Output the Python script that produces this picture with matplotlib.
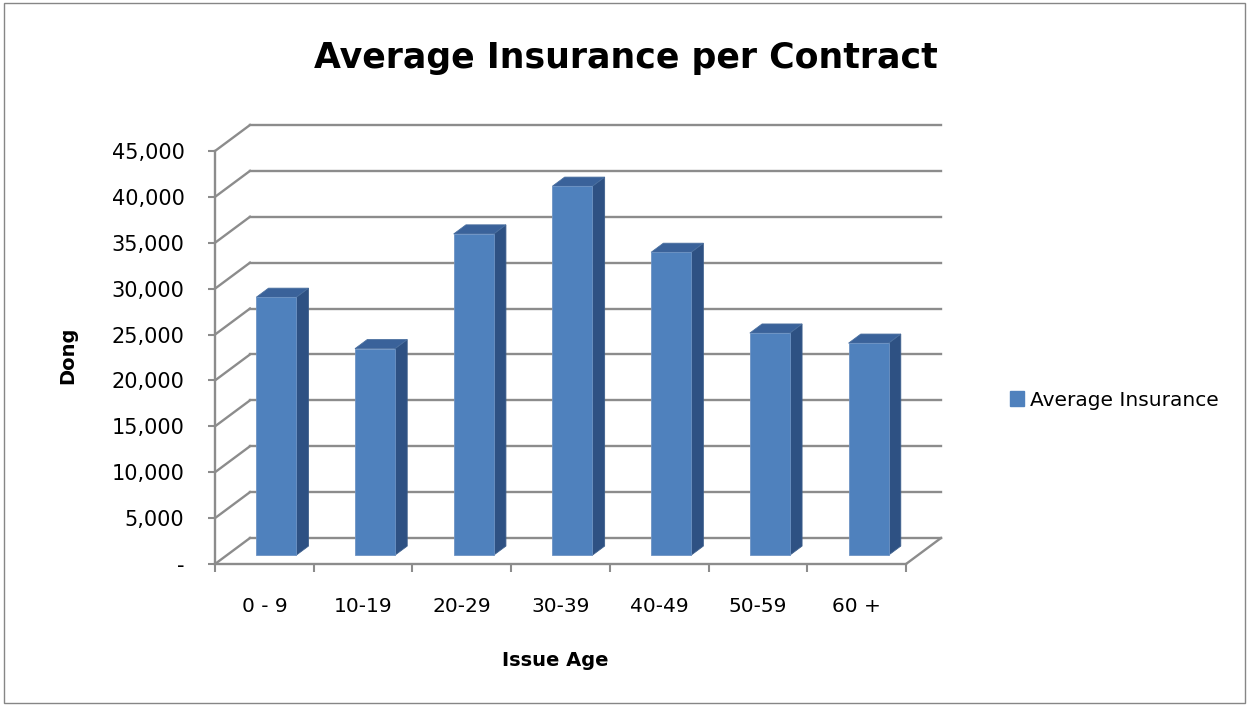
import numpy as np
from matplotlib import pyplot as plt
from matplotlib.patches import Patch, Rectangle

# data
categories = ['0 - 9', '10-19', '20-29', '30-39', '40-49', '50-59', '60 +']
avg_insurance = [28100, 22500, 35000, 40200, 33000, 24200, 23100]
series_name = 'Average Insurance'
yticks = list(range(0, 45001, 5000))

W, H = 1247, 705
fig = plt.figure(figsize=(W / 100, H / 100), dpi=100)
ax = fig.add_axes([215 / W, 141 / H, 691 / W, 413 / H])
ax.set_xlim(-0.5, len(categories) - 0.5)
ax.set_ylim(0, 45000)

grid_col = '#8c8c8c'

# depth vector of the fake 3d box, in data units (35px right, 26px up)
px_per_x = 691 / len(categories)
px_per_y = 413 / 45000
DX = 35 / px_per_x
DY = 26 / px_per_y

x0, x1 = -0.5, len(categories) - 0.5

# back wall gridlines + side wall diagonals
for v in yticks:
    ax.plot([x0 + DX, x1 + DX], [v + DY, v + DY], color=grid_col, lw=1.7, clip_on=False, zorder=1)
    ax.plot([x0, x0 + DX], [v, v + DY], color=grid_col, lw=1.7, clip_on=False, zorder=1)
# floor right edge
ax.plot([x1, x1 + DX], [0, DY], color=grid_col, lw=1.7, clip_on=False, zorder=1)

# bars
w = 0.405
d1, d2 = 0.34, 0.69
front_c, side_c, top_c = '#4f81bd', '#2e5183', '#3a629a'
for i, v in enumerate(avg_insurance):
    l = i - w / 2
    r = i + w / 2
    # side face
    ax.fill([r + d1 * DX, r + d2 * DX, r + d2 * DX, r + d1 * DX],
            [d1 * DY, d2 * DY, v + d2 * DY, v + d1 * DY],
            color=side_c, ec='#3d5f8c', lw=0.6, clip_on=False, zorder=3)
    # top face
    ax.fill([l + d1 * DX, r + d1 * DX, r + d2 * DX, l + d2 * DX],
            [v + d1 * DY, v + d1 * DY, v + d2 * DY, v + d2 * DY],
            color=top_c, ec='#4a6f9f', lw=0.6, clip_on=False, zorder=3)
    # front face
    ax.fill([l + d1 * DX, r + d1 * DX, r + d1 * DX, l + d1 * DX],
            [d1 * DY, d1 * DY, v + d1 * DY, v + d1 * DY],
            color=front_c, ec='#6d93c4', lw=0.6, clip_on=False, zorder=4)

# front axes
for s in ['top', 'right']:
    ax.spines[s].set_visible(False)
for s in ['left', 'bottom']:
    ax.spines[s].set_color(grid_col)
    ax.spines[s].set_linewidth(1.7)

ax.set_yticks(yticks)
ax.set_yticklabels(['-' if t == 0 else f'{t:,}' for t in yticks])
ax.tick_params(axis='y', length=5, width=1.5, color=grid_col, pad=17, labelsize=15)

ax.set_xticks(np.arange(len(categories) + 1) - 0.5)
ax.set_xticklabels([])
ax.tick_params(axis='x', which='major', length=6, width=1.5, color=grid_col)
ax.set_xticks(np.arange(len(categories)), minor=True)
ax.set_xticklabels(categories, minor=True)
ax.tick_params(axis='x', which='minor', length=0, pad=24, labelsize=14.5)
ax.set_facecolor('none')

fig.text(626 / W, 1 - 58 / H, 'Average Insurance per Contract', ha='center', va='center',
         fontsize=25, fontweight='bold')
fig.text(68 / W, 1 - 355 / H, 'Dong', rotation=90, ha='center', va='center',
         fontsize=14, fontweight='bold')
fig.text(555 / W, 1 - 660 / H, 'Issue Age', ha='center', va='center',
         fontsize=14, fontweight='bold')

fig.legend(handles=[Patch(color=front_c, label=series_name)], loc='center left',
           bbox_to_anchor=(992 / W, 1 - 400 / H), frameon=False, fontsize=14.5,
           handlelength=0.7, handleheight=0.7, handletextpad=0.3)

fig.patches.append(Rectangle((4 / W, 2 / H), 1 - 6 / W, 1 - 5 / H, transform=fig.transFigure,
                             fill=False, ec='#868686', lw=1))

fig.savefig('out.png', dpi=100)
